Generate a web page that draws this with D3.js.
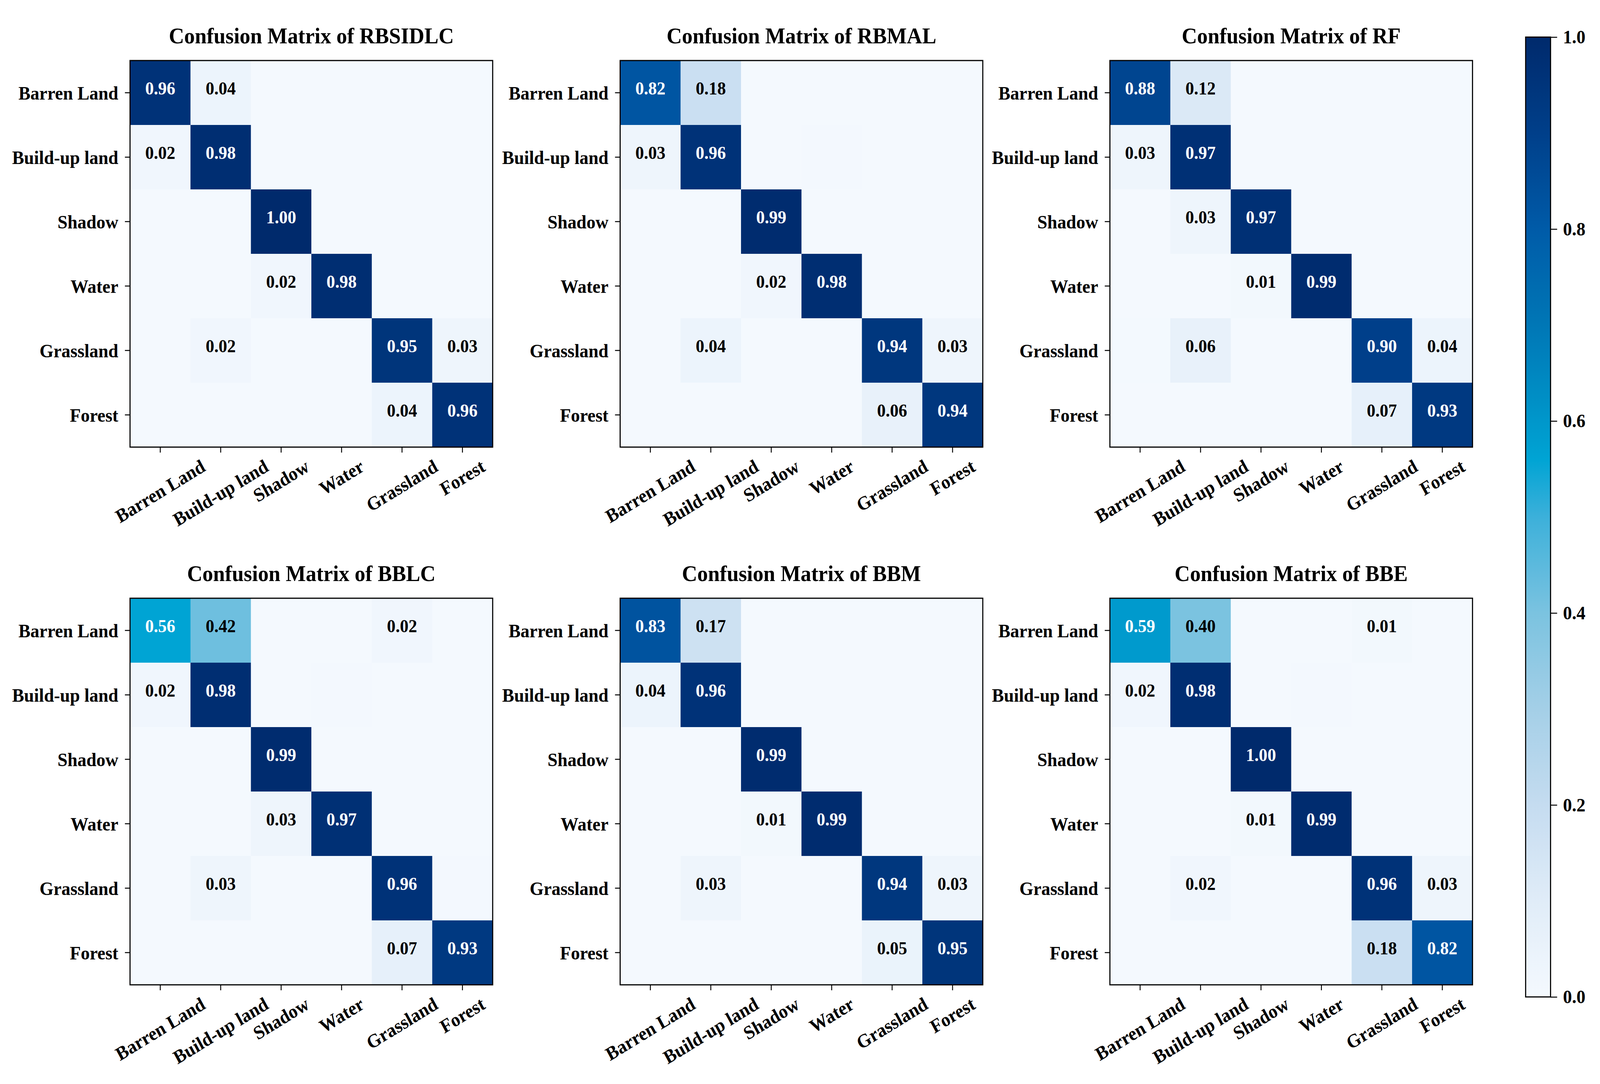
<!DOCTYPE html>
<html>
<head>
<meta charset="utf-8">
<script src="https://cdn.jsdelivr.net/npm/d3@7"></script>
<style>
  html, body { margin: 0; padding: 0; background: #fff; overflow: hidden; }
  svg { display: block; width: 100vw; height: 100vh; }
  text { font-family: "Liberation Serif", "Times New Roman", serif; font-weight: bold; }
</style>
</head>
<body>
<div id="chart"></div>
<script>
var classes = ["Barren Land", "Build-up land", "Shadow", "Water", "Grassland", "Forest"];

var modelNames = ["RBSIDLC", "RBMAL", "RF", "BBLC", "BBM", "BBE"];

// rows = true class, cols = predicted class
var rbsidlc = [
  [0.96, 0.04, 0, 0, 0, 0],
  [0.02, 0.98, 0, 0, 0, 0],
  [0, 0, 1.00, 0, 0, 0],
  [0, 0, 0.02, 0.98, 0, 0],
  [0, 0.02, 0, 0, 0.95, 0.03],
  [0, 0, 0, 0, 0.04, 0.96]
];
var rbmal = [
  [0.82, 0.18, 0, 0, 0, 0],
  [0.03, 0.96, 0, 0.004, 0, 0],
  [0, 0, 0.99, 0, 0, 0],
  [0, 0, 0.02, 0.98, 0, 0],
  [0, 0.04, 0, 0, 0.94, 0.03],
  [0, 0, 0, 0, 0.06, 0.94]
];
var rf = [
  [0.88, 0.12, 0, 0, 0, 0],
  [0.03, 0.97, 0, 0, 0, 0],
  [0, 0.03, 0.97, 0, 0, 0],
  [0, 0, 0.01, 0.99, 0, 0],
  [0.003, 0.06, 0, 0, 0.90, 0.04],
  [0, 0, 0, 0, 0.07, 0.93]
];
var bblc = [
  [0.56, 0.42, 0, 0, 0.02, 0],
  [0.02, 0.98, 0, 0.004, 0, 0],
  [0, 0, 0.99, 0, 0, 0],
  [0, 0, 0.03, 0.97, 0, 0],
  [0, 0.03, 0, 0, 0.96, 0.004],
  [0, 0, 0, 0, 0.07, 0.93]
];
var bbm = [
  [0.83, 0.17, 0, 0, 0, 0],
  [0.04, 0.96, 0, 0, 0, 0],
  [0, 0, 0.99, 0, 0, 0],
  [0, 0, 0.01, 0.99, 0, 0],
  [0, 0.03, 0, 0, 0.94, 0.03],
  [0, 0, 0, 0, 0.05, 0.95]
];
var bbe = [
  [0.59, 0.40, 0, 0, 0.01, 0],
  [0.02, 0.98, 0, 0.004, 0, 0],
  [0, 0, 1.00, 0, 0, 0],
  [0, 0, 0.01, 0.99, 0, 0],
  [0, 0.02, 0, 0, 0.96, 0.03],
  [0, 0, 0, 0, 0.18, 0.82]
];

var matrices = [rbsidlc, rbmal, rf, bblc, bbm, bbe];

var colorbarTicks = [0.0, 0.2, 0.4, 0.6, 0.8, 1.0];

var svgWidth = 4368;
var svgHeight = 2776;

var panelLeft = [355, 1693, 3030];
var panelTop = [155, 1532];
var size = 990;

var colorStops = [0, 0.1, 0.2, 0.3, 0.4, 0.5, 0.56, 0.62, 0.7, 0.8, 0.9, 1.0];
var colorRange = ["#f4f9fe", "#e0ecf8", "#c5dcf0", "#a4cfe7", "#7bc3e0", "#3cb0da",
                  "#00a4d4", "#0090c6", "#0077b6", "#005ba8", "#003f8a", "#002a6c"];

var color = d3.scaleLinear()
    .domain(colorStops)
    .range(colorRange)
    .interpolate(d3.interpolateRgb);

// stretch the drawing to whatever the window is, so it fills the photo
var svg = d3.select("#chart")
    .append("svg")
    .attr("viewBox", `0 0 ${svgWidth} ${svgHeight}`)
    .attr("preserveAspectRatio", "none");

var x = d3.scaleBand().domain(classes).range([0, size]);
var y = d3.scaleBand().domain(classes).range([0, size]);

var tickFont = 49;
var cellFont = 47;
var titleFont = 58;
var serif = "Liberation Serif, Times New Roman, serif";

matrices.forEach(function(matrix, m) {
    var g = svg.append("g")
        .attr("transform", `translate(${panelLeft[m % 3]}, ${panelTop[Math.floor(m / 3)]})`);

    var cells = [];
    matrix.forEach(function(row, i) {
        row.forEach(function(v, j) {
            cells.push({ row: classes[i], col: classes[j], value: v });
        });
    });

    g.selectAll("rect.cell")
        .data(cells)
        .enter()
        .append("rect")
        .attr("class", "cell")
        .attr("x", d => x(d.col))
        .attr("y", d => y(d.row))
        .attr("width", x.bandwidth() + 0.5)
        .attr("height", y.bandwidth() + 0.5)
        .attr("fill", d => color(d.value));

    g.selectAll("text.val")
        .data(cells.filter(d => d.value >= 0.005))
        .enter()
        .append("text")
        .attr("class", "val")
        .attr("x", d => x(d.col) + x.bandwidth() / 2)
        .attr("y", d => y(d.row) + y.bandwidth() / 2)
        .attr("dy", "0.1em")
        .attr("text-anchor", "middle")
        .attr("font-size", cellFont)
        .attr("fill", d => d.value > 0.5 ? "#ffffff" : "#000000")
        .text(d => d.value.toFixed(2));

    // frame
    g.append("rect")
        .attr("width", size)
        .attr("height", size)
        .attr("fill", "none")
        .attr("stroke", "#000")
        .attr("stroke-width", 3);

    // y axis
    var leftAxis = d3.axisLeft(y).tickSize(14).tickPadding(18).tickSizeOuter(0);
    var yAxis = g.append("g").call(leftAxis);
    yAxis.select(".domain").remove();
    yAxis.selectAll("line").attr("stroke", "#000").attr("stroke-width", 2.5);
    yAxis.selectAll("text")
        .attr("font-size", tickFont)
        .attr("font-family", serif)
        .attr("font-weight", "bold")
        .attr("fill", "#000")
        .attr("dy", "0.35em");

    // x axis with rotated labels
    var bottomAxis = d3.axisBottom(x).tickSize(14).tickSizeOuter(0);
    var xAxis = g.append("g")
        .attr("transform", `translate(0, ${size})`)
        .call(bottomAxis);
    xAxis.select(".domain").remove();
    xAxis.selectAll("line").attr("stroke", "#000").attr("stroke-width", 2.5);
    xAxis.selectAll("text")
        .attr("font-size", tickFont)
        .attr("font-family", serif)
        .attr("font-weight", "bold")
        .attr("fill", "#000")
        .attr("text-anchor", "middle")
        .attr("y", 0)
        .attr("dy", "0.33em")
        .each(function() {
            var w = this.getComputedTextLength();
            var h = tickFont * 0.9;
            var half = (w * 0.5 + h * 0.866) / 2;
            d3.select(this).attr("transform", `translate(0, ${14 + 12 + half}) rotate(-30)`);
        });

    g.append("text")
        .attr("x", size / 2)
        .attr("y", -44)
        .attr("text-anchor", "middle")
        .attr("font-size", titleFont)
        .attr("fill", "#000")
        .text("Confusion Matrix of " + modelNames[m]);
});

// colorbar
var cbLeft = 4165;
var cbWidth = 68;
var cbTop = 95;
var cbBottom = 2553;

var defs = svg.append("defs");
var grad = defs.append("linearGradient")
    .attr("id", "cbgrad")
    .attr("x1", 0).attr("y1", 1)
    .attr("x2", 0).attr("y2", 0);
d3.range(0, 1.0001, 0.02).forEach(function(t) {
    grad.append("stop")
        .attr("offset", t)
        .attr("stop-color", color(t));
});

var cbScale = d3.scaleLinear().domain([0, 1]).range([cbBottom, cbTop]);

svg.append("rect")
    .attr("x", cbLeft)
    .attr("y", cbTop)
    .attr("width", cbWidth)
    .attr("height", cbBottom - cbTop)
    .attr("fill", "url(#cbgrad)")
    .attr("stroke", "#000")
    .attr("stroke-width", 3);

var cbAxis = svg.append("g")
    .attr("transform", `translate(${cbLeft + cbWidth}, 0)`)
    .call(d3.axisRight(cbScale).tickValues(colorbarTicks).tickFormat(d3.format(".1f")).tickSize(18).tickPadding(16).tickSizeOuter(0));
cbAxis.select(".domain").remove();
cbAxis.selectAll("line").attr("stroke", "#000").attr("stroke-width", 2.5);
cbAxis.selectAll("text")
    .attr("font-size", tickFont)
    .attr("font-family", serif)
    .attr("font-weight", "bold")
    .attr("fill", "#000");
</script>
</body>
</html>
